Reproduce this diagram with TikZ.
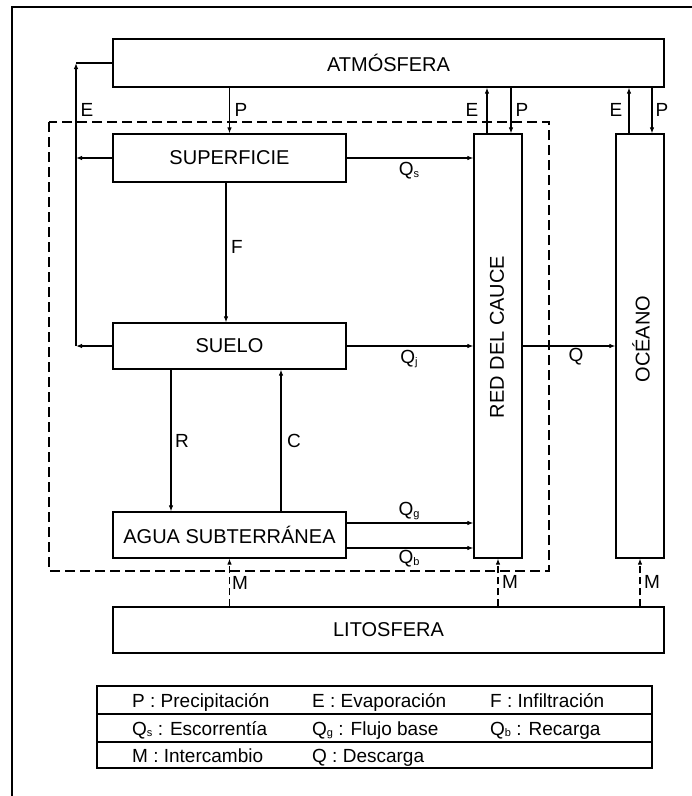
\documentclass[tikz,border=0pt]{standalone}
\usepackage{fontspec}
\setmainfont{Liberation Sans}
\usetikzlibrary{arrows.meta}
\newcommand{\Qsub}[1]{Q\raisebox{-1.5pt}{\fontsize{11}{11}\selectfont #1}}
\begin{document}
\begin{tikzpicture}[x=1pt,y=-1pt,
  box/.style={draw,line width=1.2pt,inner sep=0pt,font=\fontsize{20}{24}\selectfont},
  arr/.style={line width=1.1pt,-{Latex[length=6pt,width=4.5pt]}},
  plain/.style={line width=1.1pt},
  dasharr/.style={arr,dash pattern=on 7pt off 4pt},
  lbl/.style={font=\fontsize{19}{22}\selectfont,inner sep=0pt},
  leg/.style={anchor=base west,font=\fontsize{19}{22}\selectfont,inner sep=0pt}]
\useasboundingbox (0,0) rectangle (692,796);
\draw[line width=1.2pt] (12,796) -- (12,7) -- (692,7);
% dashed basin boundary
\draw[line width=1.1pt,dash pattern=on 10pt off 5pt] (49,122) rectangle (549,571);
% boxes
\node[box,minimum width=551pt,minimum height=48pt] (ATM) at (388.5,63) {ATMÓSFERA};
\node[box,minimum width=233pt,minimum height=48pt] (SUP) at (229.5,158) {SUPERFICIE};
\node[box,minimum width=233pt,minimum height=46pt] (SUELO) at (229.5,346) {SUELO};
\node[box,minimum width=233pt,minimum height=46pt] (AGUA) at (229.5,535) {AGUA SUBTERRÁNEA};
\node[box,minimum width=48pt,minimum height=424pt] (RED) at (498,346) {};
\node[box,minimum width=48pt,minimum height=424pt] (OCE) at (640,346) {};
\node[box,minimum width=551pt,minimum height=46pt] (LITO) at (388.5,630) {LITOSFERA};
\node[rotate=90,font=\fontsize{20}{24}\selectfont,inner sep=0pt] (REDt) at (497,337) {RED DEL CAUCE};
\node[rotate=90,font=\fontsize{20}{24}\selectfont,inner sep=0pt] (OCEt) at (641,339) {OCÉANO};
% evaporation return on the left
\coordinate (eTop) at (76,63);
\coordinate (eSup) at (76,158);
\coordinate (eSoil) at (76,346);
\draw[arr] (SUP.west) -- (eSup);
\draw[arr] (SUELO.west) -- (eSoil);
\draw[arr] (eSoil) -- (eTop);
\draw[plain] (eTop) -- (ATM.west);
\node[lbl] (lE1) at (87,110) {E};
% precipitation to surface
\draw[arr] (SUP.north |- ATM.south) -- (SUP.north);
\node[lbl] (lP1) at (241,110) {P};
% infiltration
\coordinate (fA) at ([xshift=-3.5pt]SUP.south);
\draw[arr] (fA) -- (fA |- SUELO.north);
\node[lbl] (lF) at (237,247) {F};
% R and C
\coordinate (rA) at ([xshift=-58.5pt]SUELO.south);
\coordinate (cA) at ([xshift=51.5pt]SUELO.south);
\draw[arr] (rA) -- (rA |- AGUA.north);
\draw[arr] (cA |- AGUA.north) -- (cA);
\node[lbl] (lR) at (182,441) {R};
\node[lbl] (lC) at (294,441) {C};
% flows to channel network
\draw[arr] (SUP.east) -- (SUP.east -| RED.west);
\node[lbl] (lQs) at (409,171) {\Qsub{s}};
\draw[arr] (SUELO.east) -- (SUELO.east -| RED.west);
\node[lbl] (lQj) at (409,359) {\Qsub{j}};
\coordinate (gA) at ([yshift=12pt]AGUA.east);
\coordinate (bA) at ([yshift=-13pt]AGUA.east);
\draw[arr] (gA) -- (gA -| RED.west);
\draw[arr] (bA) -- (bA -| RED.west);
\node[lbl] (lQg) at (409,511) {\Qsub{g}};
\node[lbl] (lQb) at (409,559) {\Qsub{b}};
% discharge
\draw[arr] (RED.east) -- (OCE.west);
\node[lbl] (lQ) at (576,357) {Q};
% E / P for channel network and ocean
\coordinate (rE) at ([xshift=-11pt]RED.north);
\coordinate (rP) at ([xshift=13pt]RED.north);
\coordinate (oE) at ([xshift=-11pt]OCE.north);
\coordinate (oP) at ([xshift=12pt]OCE.north);
\draw[arr] (rE) -- (rE |- ATM.south);
\draw[arr] (rP |- ATM.south) -- (rP);
\draw[arr] (oE) -- (oE |- ATM.south);
\draw[arr] (oP |- ATM.south) -- (oP);
\node[lbl] (lE2) at (472,110) {E};
\node[lbl] (lP2) at (522,110) {P};
\node[lbl] (lE3) at (616,110) {E};
\node[lbl] (lP3) at (662,110) {P};
% exchange with lithosphere
\draw[dasharr] (AGUA.south |- LITO.north) -- (AGUA.south);
\draw[dasharr] (RED.south |- LITO.north) -- (RED.south);
\draw[dasharr] (OCE.south |- LITO.north) -- (OCE.south);
\node[lbl] (lM1) at (240,583) {M};
\node[lbl] (lM2) at (510,582) {M};
\node[lbl] (lM3) at (652,582) {M};
% legend
\node[draw,line width=1.2pt,inner sep=0pt,minimum width=555pt,minimum height=82pt] (legend) at (374.5,727) {};
\coordinate (row1) at (0,714);
\coordinate (row2) at (0,742);
\draw[line width=1.2pt] (legend.west |- row1) -- (legend.east |- row1);
\draw[line width=1.2pt] (legend.west |- row2) -- (legend.east |- row2);
\node[leg] (t11) at (132,707) {P : Precipitación};
\node[leg] (t12) at (312,707) {E : Evaporación};
\node[leg] (t13) at (490,707) {F : Infiltración};
\node[leg] (t21) at (132,735) {\Qsub{s} : Escorrentía};
\node[leg] (t22) at (312,735) {\Qsub{g} : Flujo base};
\node[leg] (t23) at (490,735) {\Qsub{b} : Recarga};
\node[leg] (t31) at (132,762) {M : Intercambio};
\node[leg] (t32) at (312,762) {Q : Descarga};
\end{tikzpicture}
\end{document}
